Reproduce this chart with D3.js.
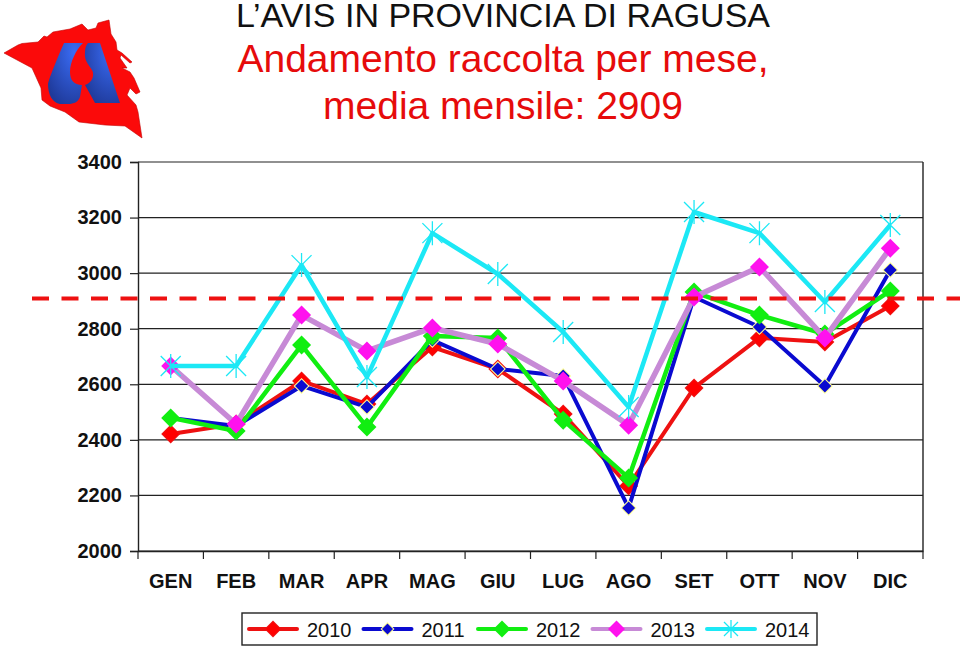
<!DOCTYPE html>
<html>
<head>
<meta charset="utf-8">
<script src="https://cdn.jsdelivr.net/npm/d3@7"></script>
<style>
    html, body { margin: 0; padding: 0; background: #fff; }
    svg { display: block; }
    text { font-family: "Liberation Sans", Arial, sans-serif; }
</style>
</head>
<body>
<svg width="960" height="646"></svg>
<script>
var months = ["GEN", "FEB", "MAR", "APR", "MAG", "GIU", "LUG", "AGO", "SET", "OTT", "NOV", "DIC"];
var yTicks = [2000, 2200, 2400, 2600, 2800, 3000, 3200, 3400];
var average = 2909;

var v2010 = [2421, 2457, 2612, 2529, 2734, 2655, 2493, 2234, 2587, 2767, 2752, 2882];
var v2011 = [2479, 2450, 2594, 2518, 2759, 2655, 2630, 2155, 2914, 2806, 2594, 3011];
var v2012 = [2479, 2432, 2741, 2446, 2774, 2767, 2471, 2263, 2932, 2849, 2781, 2936];
var v2013 = [2666, 2457, 2849, 2720, 2803, 2745, 2612, 2453, 2914, 3022, 2767, 3090];
var v2014 = [2666, 2666, 3029, 2626, 3144, 2997, 2788, 2518, 3220, 3144, 2896, 3173];

var series = [
    {name: "2010", values: v2010, line: "#ee1111", fill: "#ff0000", halo: "#ee1111", r: 8, w: 4, mark: "diamond"},
    {name: "2011", values: v2011, line: "#0a0ad0", fill: "#0a0ad0", halo: "#ffff99", r: 6.5, w: 4, mark: "diamond"},
    {name: "2012", values: v2012, line: "#11ee11", fill: "#11ee11", halo: "#11ee11", r: 8, w: 4.5, mark: "diamond"},
    {name: "2013", values: v2013, line: "#c78ad6", fill: "#ff11ee", halo: "#ff11ee", r: 8, w: 5.5, mark: "diamond"},
    {name: "2014", values: v2014, line: "#1ce8f5", fill: "none", halo: "#1ce8f5", r: 10, w: 4.5, mark: "star"}
];

var svg = d3.select("svg"),
    margin = {top: 162, right: 37, bottom: 95, left: 138},
    width = 960 - margin.left - margin.right,
    height = 646 - margin.top - margin.bottom,
    g = svg.append("g").attr("transform", "translate(" + margin.left + "," + margin.top + ")");

var x = d3.scaleBand().domain(months).range([0, width]),
    y = d3.scaleLinear().domain([2000, 3400]).range([height, 0]);

// grid lines
g.append("g").selectAll("line")
    .data(yTicks)
    .enter().append("line")
    .attr("x1", 0)
    .attr("x2", width)
    .attr("y1", function (d) { return y(d); })
    .attr("y2", function (d) { return y(d); })
    .attr("stroke", "#222")
    .attr("stroke-width", 1.2);

// axes
var axisY = g.append("g")
    .call(d3.axisLeft(y).tickValues(yTicks).tickSize(8).tickPadding(8).tickFormat(d3.format("d")));
var axisX = g.append("g")
    .attr("transform", "translate(0," + height + ")")
    .call(d3.axisBottom(x).tickSize(0).tickPadding(23));

axisX.selectAll(".tick").append("line")
    .attr("class", "sep")
    .attr("x1", x.bandwidth() / 2)
    .attr("x2", x.bandwidth() / 2)
    .attr("y1", 0)
    .attr("y2", 8)
    .attr("stroke", "#222");
axisX.append("line").attr("x1", 0).attr("x2", 0).attr("y1", 0).attr("y2", 8).attr("stroke", "#222");

[axisX, axisY].forEach(function (a) {
    a.attr("font-family", null).attr("font-size", null);
    a.selectAll("text")
        .style("font-size", "20px")
        .style("font-weight", "bold")
        .attr("fill", "#111");
    a.selectAll(".domain").attr("stroke", "#222").attr("stroke-width", 1.4);
    a.selectAll("line").attr("stroke", "#222").attr("stroke-width", 1.2);
});

// frame on the right
g.append("line")
    .attr("x1", width).attr("x2", width)
    .attr("y1", 0).attr("y2", height)
    .attr("stroke", "#222").attr("stroke-width", 1.4);

var line = d3.line()
    .x(function (d, i) { return x(months[i]) + x.bandwidth() / 2; })
    .y(function (d) { return y(d); });

function drawMark(sel, s, px, py) {
    if (s.mark === "diamond") {
        var r = s.r;
        sel.append("path")
            .attr("d", "M0," + -(r + 1.5) + "L" + (r + 1.5) + ",0L0," + (r + 1.5) + "L" + -(r + 1.5) + ",0Z")
            .attr("transform", "translate(" + px + "," + py + ")")
            .attr("fill", s.halo);
        sel.append("path")
            .attr("d", "M0," + -r + "L" + r + ",0L0," + r + "L" + -r + ",0Z")
            .attr("transform", "translate(" + px + "," + py + ")")
            .attr("fill", s.fill);
    } else {
        var a = s.r;
        var p = "M" + -a + "," + -a + "L" + a + "," + a + "M" + -a + "," + a + "L" + a + "," + -a + "M0," + -(a + 2) + "L0," + (a + 2);
        sel.append("path")
            .attr("d", p)
            .attr("transform", "translate(" + px + "," + py + ")")
            .attr("fill", "none")
            .attr("stroke", s.line)
            .attr("stroke-width", 1.3);
    }
}

series.forEach(function (s) {
    var sg = g.append("g").attr("class", "series");
    sg.append("path")
        .attr("d", line(s.values))
        .attr("fill", "none")
        .attr("stroke", s.line)
        .attr("stroke-width", s.w)
        .attr("stroke-linejoin", "round");
    s.values.forEach(function (d, i) {
        drawMark(sg, s, x(months[i]) + x.bandwidth() / 2, y(d));
    });
});

// average line, runs past the plot on both sides
g.append("line")
    .attr("x1", 32 - margin.left)
    .attr("x2", 960 - margin.left)
    .attr("y1", y(average))
    .attr("y2", y(average))
    .attr("stroke", "#ee1111")
    .attr("stroke-width", 4)
    .attr("stroke-dasharray", "17 12.5");

// titles
var titles = [
    {t: "L\u2019AVIS IN PROVINCIA DI RAGUSA", y: 27, size: 34, fill: "#111"},
    {t: "Andamento raccolta per mese,", y: 72, size: 39, fill: "#e60b0b"},
    {t: "media mensile: 2909", y: 119, size: 39, fill: "#e60b0b"}
];
svg.selectAll(".title")
    .data(titles)
    .enter().append("text")
    .attr("class", "title")
    .attr("x", 503)
    .attr("y", function (d) { return d.y; })
    .attr("text-anchor", "middle")
    .attr("font-size", function (d) { return d.size; })
    .attr("fill", function (d) { return d.fill; })
    .text(function (d) { return d.t; });

// legend
var legend = svg.append("g").attr("transform", "translate(242,613)");
legend.append("rect")
    .attr("width", 575)
    .attr("height", 32)
    .attr("fill", "#fff")
    .attr("stroke", "#222")
    .attr("stroke-width", 1.4);

var legendX = d3.scalePoint().domain(series.map(function (s) { return s.name; })).range([5, 463]);
series.forEach(function (s) {
    var lg = legend.append("g").attr("transform", "translate(" + legendX(s.name) + ",0)");
    lg.append("line")
        .attr("x1", 2).attr("x2", 50)
        .attr("y1", 16).attr("y2", 16)
        .attr("stroke", s.line)
        .attr("stroke-width", 4)
        .attr("stroke-linecap", "round");
    var ms = Object.assign({}, s, {r: s.mark === "star" ? 7 : s.r - 1});
    drawMark(lg, ms, 26, 16);
    lg.append("text")
        .attr("x", 60)
        .attr("y", 24)
        .attr("font-size", 20)
        .attr("fill", "#111")
        .text(s.name);
});

// logo: province shape with the blue AVIS mark
var defs = svg.append("defs");
var grad = defs.append("radialGradient").attr("id", "logoBlue")
    .attr("cx", "0.75").attr("cy", "0.15").attr("r", "0.95");
grad.append("stop").attr("offset", "0").attr("stop-color", "#3a6cf5");
grad.append("stop").attr("offset", "1").attr("stop-color", "#1f3a9a");

var logo = svg.append("g");
logo.append("path")
    .attr("d", "M4,53L18,45L22,43.5L38,42L44,36L47,37L53,32L70,29L82,24L88,30L96,28L98,23L109,20L111,34L116,42L117,50L122,53L132,62L130,63L121,55L120,58L127,68L122,68L130,72L134,78L140,92L136,94L130,88L127,95L136,105L138,112L142,138L125,126L105,125L79,122L65,112L50,106L42,100L41,88L32,68Z")
    .attr("fill", "#fb0a0a")
    .attr("stroke", "#c40000")
    .attr("stroke-width", 0.6);
logo.append("path")
    .attr("d", "M64,43L83,43C76,50 70,62 70,72C70,80 74,85 82,85L80,97C78,102 74,104 68,104L60,104C52,103 48,94 48,84C49,78 60,52 64,43Z")
    .attr("fill", "url(#logoBlue)");
logo.append("path")
    .attr("d", "M88,43L100,43L120,103L95,103L85,85C92,83 95,75 92,70C88,64 84,60 85,52C85,48 86,45 88,43Z")
    .attr("fill", "url(#logoBlue)");
</script>
</body>
</html>
